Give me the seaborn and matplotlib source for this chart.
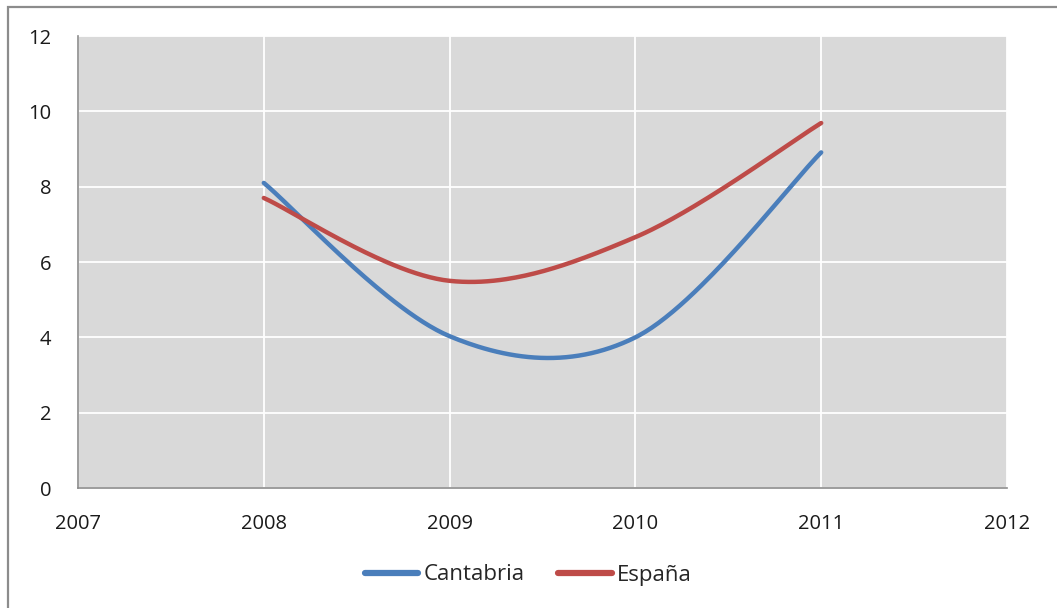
import numpy as np
import pandas as pd
import matplotlib
matplotlib.use("Agg")
import matplotlib.pyplot as plt
from matplotlib.lines import Line2D
from matplotlib.patches import Rectangle
import seaborn as sns

# Yearly values
years = [2008, 2009, 2010, 2011]
cantabria = [8.1, 4.03, 4.0, 8.91]
espana = [7.7, 5.5, 6.66, 9.69]
series_names = ["Cantabria", "España"]
x_ticks = [2007, 2008, 2009, 2010, 2011, 2012]
y_ticks = [0, 2, 4, 6, 8, 10, 12]

COLORS = {"Cantabria": "#4A7EBB", "España": "#BE4B48"}


def smooth_line(xs, ys, steps=60):
    """Spreadsheet-style smoothed line: cubic Bezier segments whose
    control points follow the neighbouring points (Catmull-Rom)."""
    xs = np.asarray(xs, float)
    ys = np.asarray(ys, float)
    px = np.concatenate([[xs[0]], xs, [xs[-1]]])
    py = np.concatenate([[ys[0]], ys, [ys[-1]]])
    out_x, out_y = [], []
    t = np.linspace(0, 1, steps)
    for i in range(len(xs) - 1):
        p0 = np.array([px[i + 1], py[i + 1]])
        p3 = np.array([px[i + 2], py[i + 2]])
        c1 = p0 + (p3 - np.array([px[i], py[i]])) / 6
        c2 = p3 - (np.array([px[i + 3], py[i + 3]]) - p0) / 6
        b = ((1 - t) ** 3)[:, None] * p0 + (3 * (1 - t) ** 2 * t)[:, None] * c1 \
            + (3 * (1 - t) * t ** 2)[:, None] * c2 + (t ** 3)[:, None] * p3
        out_x.extend(b[:, 0])
        out_y.extend(b[:, 1])
    return out_x, out_y


frames = []
for name, vals in zip(series_names, [cantabria, espana]):
    sx, sy = smooth_line(years, vals)
    frames.append(pd.DataFrame({"year": sx, "value": sy, "serie": name,
                                "order": np.arange(len(sx))}))
df = pd.concat(frames, ignore_index=True)

sns.set_theme(style="white")
plt.rcParams["font.family"] = ["Open Sans", "DejaVu Sans"]

fig = plt.figure(figsize=(10.57, 6.08), dpi=100)
W, H = 1057, 608
ax = fig.add_axes([78 / W, 1 - 488 / H, (1007 - 78) / W, (488 - 36) / H])
ax.set_facecolor("#D9D9D9")

# outer chart frame
fig.patches.append(Rectangle((8 / W, -0.05), 1.2, 1 - 7 / H + 0.05,
                             transform=fig.transFigure, fill=False,
                             edgecolor="#8C8C8C", linewidth=1.6, zorder=0))

sns.lineplot(data=df, x="year", y="value", hue="serie", units="serie",
             estimator=None, sort=False, palette=COLORS, linewidth=3.2,
             legend=False, ax=ax, solid_capstyle="round")

ax.set_xlim(2007, 2012)
ax.set_ylim(0, 12)
ax.set_xticks(x_ticks)
ax.set_yticks(y_ticks)
ax.set_xticklabels([str(v) for v in x_ticks])
ax.set_xlabel("")
ax.set_ylabel("")

ax.grid(True, color="white", linewidth=1.3)
ax.set_axisbelow(True)
for side in ["top", "right"]:
    ax.spines[side].set_visible(False)
for side in ["left", "bottom"]:
    ax.spines[side].set_color("#8C8C8C")
    ax.spines[side].set_linewidth(1.2)
ax.tick_params(axis="both", which="both", direction="out", length=7,
               width=1.1, color="#8C8C8C", labelsize=14.5,
               labelcolor="#1A1A1A")
ax.tick_params(axis="y", pad=12)
ax.tick_params(axis="x", pad=12)

handles = [Line2D([0], [0], color=COLORS[n], linewidth=4.5,
                  solid_capstyle="round") for n in series_names]
fig.legend(handles, series_names, loc="center", bbox_to_anchor=(0.5, 1 - 575 / H),
           ncol=2, frameon=False, fontsize=16, handlelength=2.4,
           handletextpad=0.25, columnspacing=1.5)

fig.savefig("out.png", dpi=100)
